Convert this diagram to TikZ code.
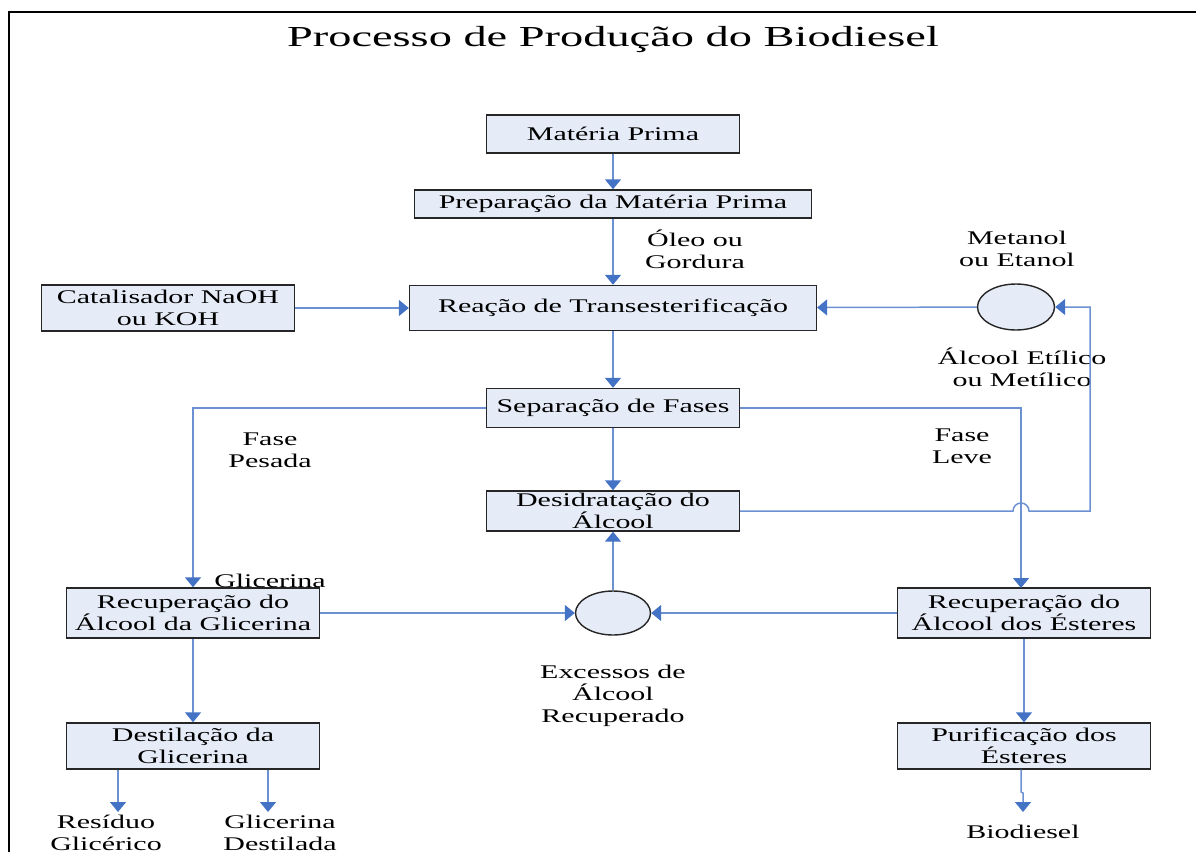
\documentclass[tikz,border=0pt]{standalone}
\usepackage{fontspec}
\setmainfont{Liberation Serif}[FakeStretch=1.55]
\newfontfamily\titlefont{Liberation Serif}[FakeStretch=1.6]
\usetikzlibrary{arrows.meta,shapes.geometric}
\definecolor{boxfill}{RGB}{230,236,247}
\definecolor{flowline}{RGB}{108,145,210}
\definecolor{flowhead}{RGB}{68,114,196}
\begin{document}
\begin{tikzpicture}[x=0.02cm,y=-0.02cm,
  font=\fontsize{11}{12.5}\selectfont,
  etapa/.style={draw=black!85,line width=0.8pt,fill=boxfill,align=center,inner sep=1pt,minimum width=5.06cm},
  bola/.style={ellipse,draw=black!85,line width=0.8pt,fill=boxfill,inner sep=0pt,minimum width=1.54cm,minimum height=0.92cm},
  rotulo/.style={align=center,inner sep=0pt},
  fluxo/.style={draw=flowline,line width=0.85pt},
  seta/.style={fluxo,-{Triangle[width=0.32cm,length=0.2cm,color=flowhead]}}]
\useasboundingbox (0,0) rectangle (1196,852);
\draw[line width=1.2pt] (9,852) -- (9,12) -- (1196,12);
\node (titulo) at (613,40) {\titlefont\fontsize{16.5}{18}\selectfont Processo de Produção do Biodiesel};

\node[etapa,minimum height=0.76cm] (mp) at (613,134) {Matéria Prima};
\node[etapa,minimum width=7.94cm,minimum height=0.56cm] (prep) at (613,204) {Preparação da Matéria Prima};
\node[etapa,minimum width=8.14cm,minimum height=0.9cm] (reac) at (613,308) {Reação de Transesterificação};
\node[etapa,minimum height=0.92cm] (cat) at (168,308) {Catalisador NaOH\\ou KOH};
\node[bola] (alc) at (1016,307) {};
\node[etapa,minimum height=0.78cm] (sep) at (613,408) {Separação de Fases};
\node[etapa,minimum height=0.8cm] (des) at (613,511) {Desidratação do\\Álcool};
\node[bola,minimum width=1.5cm,minimum height=0.88cm] (exc) at (613,613) {};
\node[etapa,minimum height=1cm] (recG) at (193,613) {Recuperação do\\Álcool da Glicerina};
\node[etapa,minimum height=1cm] (recE) at (1024,613) {Recuperação do\\Álcool dos Ésteres};
\node[etapa,minimum height=0.92cm] (dest) at (193,746) {Destilação da\\Glicerina};
\node[etapa,minimum height=0.92cm] (pur) at (1024,746) {Purificação dos\\Ésteres};

\node[rotulo] (oleo) at (695,249) {Óleo ou\\Gordura};
\node[rotulo] (met) at (1017,249) {Metanol\\ou Etanol};
\node[rotulo] (etil) at (1022,367) {Álcool Etílico\\ou Metílico};
\node[rotulo] (pesada) at (270,450) {Fase\\Pesada};
\node[rotulo] (leve) at (962,446) {Fase\\Leve};
\node[rotulo] (glic) at (270,581) {Glicerina};
\node[rotulo] (rec) at (613,696) {Excessos de\\Álcool\\Recuperado};
\node[rotulo] (resid) at (106,833) {Resíduo\\Glicérico};
\node[rotulo] (gdest) at (280,833) {Glicerina\\Destilada};
\node[rotulo] (bio) at (1023,832) {Biodiesel};

\coordinate (r1) at (118,812);
\coordinate (r2) at (268,812);
\coordinate (r3) at (1023,812);

\draw[seta] (mp) -- (prep);
\draw[seta] (prep) -- (reac);
\draw[seta] (cat) -- (reac);
\draw[seta] (alc) -- (reac);
\draw[seta] (reac) -- (sep);
\draw[seta] (sep) -- (des);
\draw[seta] (sep.west) -| (recG.north);
\draw[seta] (sep.east) -| (1021,588);
\draw[seta] (des.east) -- (1013,511) arc (180:360:8) -- (1090,511) |- (alc.east);
\draw[seta] (exc) -- (des);
\draw[seta] (recG) -- (exc);
\draw[seta] (recE) -- (exc);
\draw[seta] (recG) -- (dest);
\draw[seta] (recE) -- (pur);
\draw[seta] (dest.south -| r1) -- (r1);
\draw[seta] (dest.south -| r2) -- (r2);
\draw[seta] (pur.south -| 1021,0) -- (1021,792) -- (1023,793) -- (r3);
\end{tikzpicture}
\end{document}
